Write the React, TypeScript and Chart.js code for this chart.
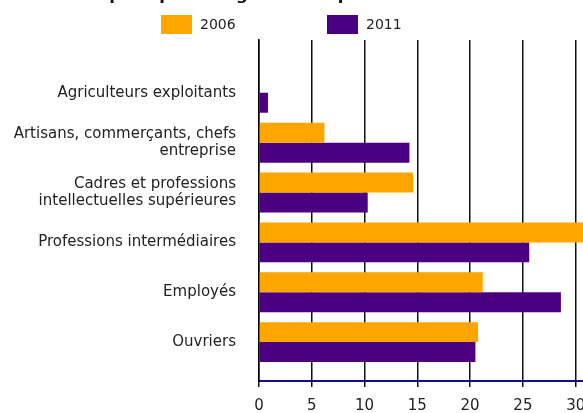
import React, { useEffect, useRef } from "react";
import { Chart, registerables } from "chart.js";

Chart.register(...registerables);

const titleText = "Emplois par catégorie socioprofessionnelle";
const categories: (string | string[])[] = [
  "Agriculteurs exploitants",
  ["Artisans, commerçants, chefs", "entreprise"],
  ["Cadres et professions", "intellectuelles supérieures"],
  "Professions intermédiaires",
  "Employés",
  "Ouvriers",
];
const seriesNames = ["2006", "2011"];
const values2006 = [0, 6.2, 14.6, 31, 21.2, 20.75];
const values2011 = [0.85, 14.25, 10.3, 25.6, 28.6, 20.5];
const xTicksMin = 0;
const xTicksMax = 35;
const xTicksStep = 5;

const FONT = "'DejaVu Sans', Verdana, sans-serif";

const headerPlugin = {
  id: "header",
  afterDraw(chart: any) {
    const ctx = chart.ctx;
    ctx.save();
    ctx.fillStyle = "#111";
    ctx.font = `bold 16.5px ${FONT}`;
    ctx.textAlign = "center";
    ctx.textBaseline = "alphabetic";
    ctx.fillText(titleText, 281, 15.5);
    const starts = [161, 327];
    ctx.font = `14px ${FONT}`;
    ctx.textAlign = "left";
    ctx.textBaseline = "middle";
    chart.data.datasets.forEach((ds: any, i: number) => {
      const x = starts[i];
      ctx.fillStyle = ds.backgroundColor;
      ctx.fillRect(x, 31, 31, 19);
      ctx.fillStyle = "#222";
      ctx.fillText(ds.label, x + 39, 41.5);
    });
    ctx.restore();
  },
};

export default function App() {
  const ref = useRef<HTMLCanvasElement>(null);
  useEffect(() => {
    if (!ref.current) return;
    Chart.defaults.font.family = FONT;
    Chart.defaults.color = "#222";
    const toPoints = (arr: number[]) => arr.map((v, i) => ({ x: v, y: i }));
    const chart = new Chart(ref.current, {
      type: "bar",
      data: {
        datasets: [
          {
            label: seriesNames[0],
            data: toPoints(values2006),
            backgroundColor: "#FFA500",
            borderWidth: 0,
          },
          {
            label: seriesNames[1],
            data: toPoints(values2011),
            backgroundColor: "#4B0082",
            borderWidth: 0,
          },
        ],
      },
      options: {
        indexAxis: "y",
        responsive: false,
        animation: false,
        categoryPercentage: 0.8,
        barPercentage: 1.0,
        layout: { padding: { top: 56, right: 9, left: 0, bottom: 0 } },
        plugins: {
          legend: { display: false },
          title: { display: false },
          tooltip: { enabled: false },
        },
        scales: {
          x: {
            type: "linear",
            min: xTicksMin,
            max: xTicksMax,
            ticks: { stepSize: xTicksStep, font: { size: 15 }, padding: 10, color: "#222" },
            grid: { color: "#111", lineWidth: 1.5, tickLength: 6, tickColor: "#111" },
            border: { color: "#101080", width: 2 },
          },
          y: {
            type: "linear",
            reverse: true,
            offset: false,
            min: -1.06,
            max: 5.78,
            afterBuildTicks: (scale: any) => {
              scale.ticks = categories.map((_, i) => ({ value: i }));
            },
            afterFit: (scale: any) => {
              scale.width = 259;
            },
            ticks: {
              callback: (v: any) => categories[v as number] ?? "",
              font: { size: 15, lineHeight: 1.13 },
              padding: 23,
              color: "#222",
            },
            grid: { display: false, drawTicks: false, offset: false },
            border: { color: "#000", width: 1.5 },
          },
        },
      },
      plugins: [headerPlugin],
    } as any);
    return () => chart.destroy();
  }, []);
  return (
    <div
      style={{
        position: "fixed",
        left: 0,
        top: 0,
        width: 583,
        height: 413,
        overflow: "hidden",
        background: "#fff",
      }}
    >
      <canvas
        ref={ref}
        width={648}
        height={441}
        style={{ position: "absolute", left: 0, top: -16, width: 648, height: 441 }}
      />
    </div>
  );
}
